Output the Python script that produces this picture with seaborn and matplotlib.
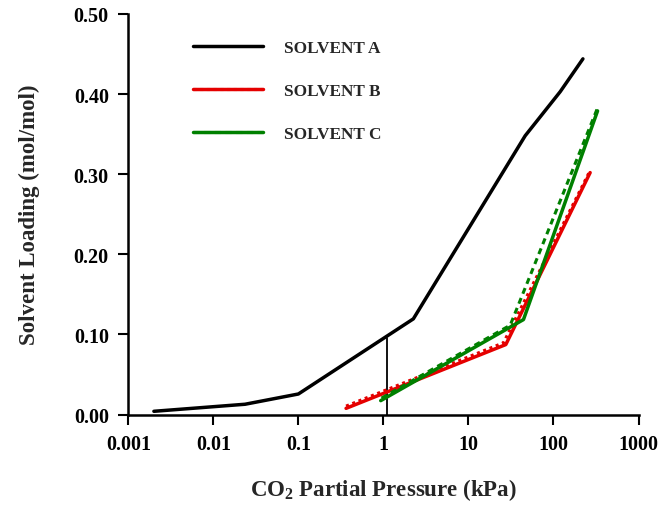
import matplotlib
matplotlib.use("Agg")
import matplotlib.pyplot as plt
import seaborn as sns
import pandas as pd
from matplotlib.lines import Line2D

# ---- data ----
a_x = [0.002, 0.0236, 0.1, 2.25, 46.5, 120, 222]
a_y = [0.004, 0.0128, 0.0256, 0.1194, 0.348, 0.403, 0.444]

b_x = [0.364, 27.5, 270]
b_y = [0.0077, 0.0873, 0.302]
b_fit_x = [0.364, 25.8, 268]
b_fit_y = [0.0105, 0.0895, 0.304]

c_x = [0.93, 44.4, 330]
c_y = [0.0173, 0.1185, 0.379]
c_fit_x = [0.95, 31.0, 325]
c_fit_y = [0.0205, 0.1115, 0.381]

vline_x = [1.1, 1.1]
vline_y = [0.0, 0.0956]

x_ticks = [0.001, 0.01, 0.1, 1, 10, 100, 1000]
x_labels = ["0.001", "0.01", "0.1", "1", "10", "100", "1000"]
y_ticks = [0.0, 0.1, 0.2, 0.3, 0.4, 0.5]
y_labels = ["0.00", "0.10", "0.20", "0.30", "0.40", "0.50"]

legend_labels = ["SOLVENT A", "SOLVENT B", "SOLVENT C"]

RED = "#e50000"
GREEN = "#008000"

sns.set_style("ticks")
plt.rcParams["font.family"] = ["Liberation Serif", "DejaVu Serif"]
plt.rcParams["font.weight"] = "bold"
plt.rcParams["mathtext.fontset"] = "custom"
plt.rcParams["mathtext.rm"] = "Liberation Serif:bold"
plt.rcParams["mathtext.default"] = "rm"

fig = plt.figure(figsize=(6.58, 5.06), dpi=100)
ax = fig.add_axes([128.3 / 658, 1 - 415.5 / 506, (638.5 - 128.3) / 658, (415.5 - 15) / 506])

def df(x, y):
    return pd.DataFrame({"x": x, "y": y})

sns.lineplot(data=df(a_x, a_y), x="x", y="y", ax=ax, color="black", lw=2.5,
             sort=False, estimator=None)
sns.lineplot(data=df(vline_x, vline_y), x="x", y="y", ax=ax, color="black", lw=1.3,
             sort=False, estimator=None)
sns.lineplot(data=df(b_x, b_y), x="x", y="y", ax=ax, color=RED, lw=2.5,
             sort=False, estimator=None)
sns.lineplot(data=df(b_fit_x, b_fit_y), x="x", y="y", ax=ax, color=RED, lw=2.2,
             linestyle=(0, (1, 1.2)), sort=False, estimator=None)
sns.lineplot(data=df(c_x, c_y), x="x", y="y", ax=ax, color=GREEN, lw=2.5,
             sort=False, estimator=None)
sns.lineplot(data=df(c_fit_x, c_fit_y), x="x", y="y", ax=ax, color=GREEN, lw=2.2,
             linestyle=(0, (2, 1.5)), sort=False, estimator=None)

ax.set_xscale("log")
ax.set_xlim(0.001, 1000)
ax.set_ylim(0, 0.5)
ax.set_xticks(x_ticks, x_labels)
ax.set_yticks(y_ticks, y_labels)
ax.minorticks_off()
ax.tick_params(axis="both", which="major", direction="out", length=7, width=1.5,
               labelsize=14.5, pad=7, color="black", labelcolor="black")
for lab in ax.get_xticklabels() + ax.get_yticklabels():
    lab.set_fontweight("bold")

sns.despine(ax=ax)
for s in ["left", "bottom"]:
    ax.spines[s].set_linewidth(1.8)
    ax.spines[s].set_color("black")

ax.set_xlabel("CO$_2$ Partial Pressure (kPa)", fontsize=16.5, fontweight="bold", labelpad=16)
ax.set_ylabel("Solvent Loading (mol/mol)", fontsize=16.5, fontweight="bold", labelpad=24)

h_a = Line2D([], [], color="black", lw=2.5)
h_b = (Line2D([], [], color=RED, lw=2.5),
       Line2D([], [], color=RED, lw=2.2, linestyle=(0, (1, 1.2))))
h_c = (Line2D([], [], color=GREEN, lw=2.5),
       Line2D([], [], color=GREEN, lw=2.2, linestyle=(0, (2, 1.5))))
leg = ax.legend([h_a, h_b, h_c], legend_labels, loc="upper left",
                bbox_to_anchor=(0.127, 0.935), frameon=False,
                handlelength=4.07, handletextpad=1.22, labelspacing=1.57,
                borderpad=0, borderaxespad=0, prop={"weight": "bold", "size": 12.4})

fig.savefig("out.png", dpi=100)
